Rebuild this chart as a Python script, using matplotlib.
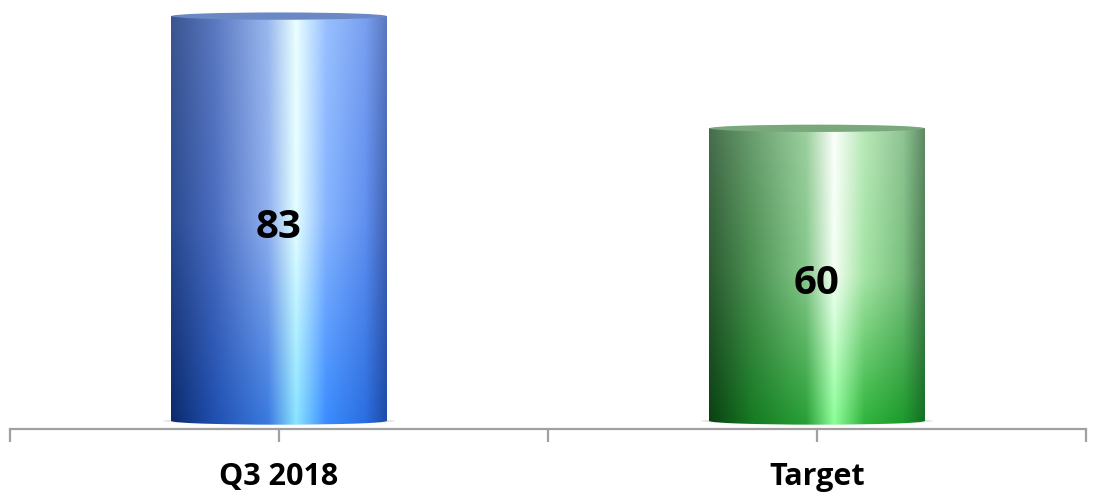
import numpy as np
import matplotlib
matplotlib.use('Agg')
import matplotlib.pyplot as plt
from matplotlib.patches import Ellipse
from matplotlib.colors import to_rgb

plt.rcParams['font.family'] = ['Open Sans', 'DejaVu Sans']

# Data
categories = ['Q3 2018', 'Target']
values = [83, 60]

# Horizontal colour stops (fraction across bar) for bottom / middle / top of each cylinder
stops = [0.0, 0.2, 0.45, 0.58, 0.72, 0.9, 1.0]
blue_bottom = ['#0b2a6c', '#1f4fb0', '#3a7ae0', '#8ae4ff', '#3a8cff', '#2a6ee0', '#1c4aa8']
blue_mid = ['#2a4a90', '#4a6cc0', '#90b0f0', '#e4ffff', '#86b4ff', '#6090f0', '#4062b4']
blue_top = ['#3c5590', '#5a78c0', '#9ab8ee', '#eaffff', '#98c0ff', '#7aa0f0', '#5a78c0']
green_bottom = ['#0a4012', '#157a22', '#28a035', '#8cff98', '#30b43c', '#1c9a2a', '#127022']
green_mid = ['#2a5a30', '#4a9050', '#84c88a', '#f4fff4', '#a4e4a4', '#78c07e', '#4a7e50']
green_top = ['#466e4c', '#6a9e70', '#9ccf9e', '#fbfffb', '#b8e8b8', '#90c494', '#5f8a64']


def gradient_image(bottom, mid, top, ncols=300, nrows=200):
    def row(cols):
        c = np.array([to_rgb(x) for x in cols])
        xs = np.linspace(0, 1, ncols)
        return np.stack([np.interp(xs, stops, c[:, k]) for k in range(3)], axis=1)
    rb, rm, rt = row(bottom), row(mid), row(top)
    img = np.zeros((nrows, ncols, 3))
    for i, t in enumerate(np.linspace(0, 1, nrows)):  # t=0 bottom, 1 top
        if t < 0.5:
            img[i] = rb + (rm - rb) * (t / 0.5)
        else:
            img[i] = rm + (rt - rm) * ((t - 0.5) / 0.5)
    return np.clip(img, 0, 1)


fig = plt.figure(figsize=(10.94, 5.03), dpi=100)
ax = fig.add_axes([10 / 1094, 74 / 503, 1076 / 1094, 429 / 503])

x = np.arange(len(categories))
width = 0.4
bars = ax.bar(x, values, width=width, color='none', edgecolor='none')

ax.set_xlim(-0.5, 1.5)
ax.set_ylim(-1.64, 86.3)

grads = [(blue_bottom, blue_mid, blue_top, '#6a88c4'),
         (green_bottom, green_mid, green_top, '#78a87c')]
eh = 1.5  # ellipse height in data units

for bar, v, (gb, gm, gt, topc) in zip(bars, values, grads):
    x0 = bar.get_x()
    w = bar.get_width()
    xc = x0 + w / 2
    # faint shadow at base
    ax.add_patch(Ellipse((xc, 0), w * 1.08, eh * 0.9, facecolor='#e6e6e6',
                         edgecolor='none', zorder=1))
    img = gradient_image(gb, gm, gt)
    im = ax.imshow(img, extent=(x0, x0 + w, -eh / 2, v), origin='lower',
                   aspect='auto', interpolation='bilinear', zorder=2)
    clip_rect = plt.Rectangle((x0, 0), w, v, transform=ax.transData)
    im.set_clip_path(clip_rect)
    # bottom rounded edge
    im2 = ax.imshow(img[:3], extent=(x0, x0 + w, -eh / 2, 0.01), origin='lower',
                    aspect='auto', interpolation='bilinear', zorder=2)
    bot = Ellipse((xc, 0), w, eh, transform=ax.transData)
    im2.set_clip_path(bot)
    # top face
    ax.add_patch(Ellipse((xc, v), w, eh, facecolor=topc, edgecolor='none', zorder=3))
    # value label
    ax.text(xc, v / 2 - 1.8, str(v), ha='center', va='center', fontsize=29,
            fontweight='bold', color='black', zorder=4)

for s in ['top', 'right', 'left']:
    ax.spines[s].set_visible(False)
ax.spines['bottom'].set_color('#a0a0a0')
ax.spines['bottom'].set_linewidth(1.6)
ax.set_yticks([])

ax.set_xticks([-0.5, 0, 0.5, 1, 1.5])
ax.set_xticklabels(['', categories[0], '', categories[1], ''])
ax.tick_params(axis='x', length=9, width=1.6, color='#a0a0a0', pad=15,
               labelsize=22)
for lbl in ax.get_xticklabels():
    lbl.set_fontweight('bold')

fig.savefig('out.png', dpi=100)
